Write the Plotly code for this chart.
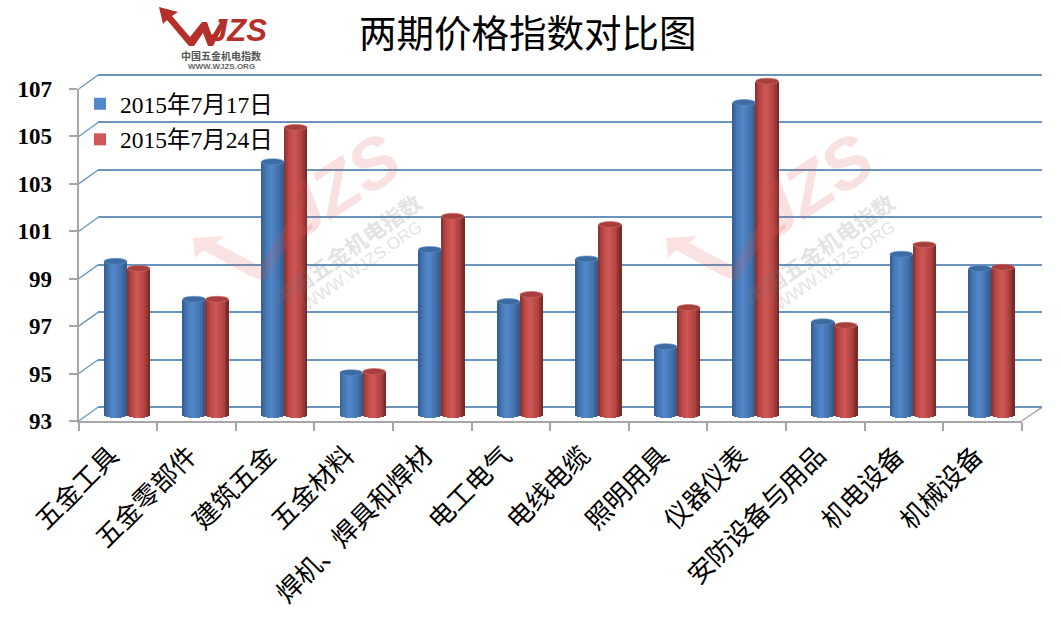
import math
import plotly.graph_objects as go

W, H = 1061, 623

# ---------- data ----------
categories = ["五金工具", "五金零部件", "建筑五金", "五金材料", "焊机、焊具和焊材", "电工电气",
              "电线电缆", "照明用具", "仪器仪表", "安防设备与用品", "机电设备", "机械设备"]
series_names = ["2015年7月17日", "2015年7月24日"]
values_0717 = [99.4, 97.8, 103.6, 94.7, 99.9, 97.7, 99.5, 95.8, 106.1, 96.85, 99.7, 99.1]
values_0724 = [99.1, 97.8, 105.05, 94.75, 101.3, 98.0, 100.95, 97.45, 107.0, 96.7, 100.1, 99.15]
y_ticks = [93, 95, 97, 99, 101, 103, 105, 107]
title_text = "两期价格指数对比图"

SERIF = '"Liberation Serif","Noto Sans CJK SC"'
CJK = '"Noto Sans CJK SC","Liberation Serif"'


def px(x):
    return x / W


def py(y):
    return 1 - y / H


def mix(a, b, t):
    return "#" + "".join(f"{round(a[i] + (b[i] - a[i]) * t):02x}" for i in range(3))


def shade(stops, t):
    for (t0, c0), (t1, c1) in zip(stops, stops[1:]):
        if t <= t1:
            return mix(c0, c1, (t - t0) / (t1 - t0))
    return mix(stops[-1][1], stops[-1][1], 0)


BLUE = [(0, (52, 92, 140)), (0.2, (68, 118, 178)), (0.45, (82, 136, 204)), (0.75, (68, 116, 176)), (1, (48, 88, 136))]
RED = [(0, (130, 48, 46)), (0.2, (186, 70, 68)), (0.45, (208, 88, 86)), (0.78, (176, 66, 64)), (1, (112, 38, 36))]

fig = go.Figure()

# back wall (gridlines)
fig.add_trace(go.Scatter(x=[0], y=[93], xaxis="x", yaxis="y", mode="markers", marker_opacity=0,
                         showlegend=False, hoverinfo="skip"))
# front axes
fig.add_trace(go.Scatter(x=categories, y=[93] * 12, xaxis="x2", yaxis="y2", mode="markers", marker_opacity=0,
                         showlegend=False, hoverinfo="skip"))

# cylinders
BAR_W = 23 / 78.64
STRIPS = 12
UNIT = 23.7
shapes = []
for s, (name, vals, stops, top, rim) in enumerate([
    (series_names[0], values_0717, BLUE, "#3d6ca3", "#5f8fc8"),
    (series_names[1], values_0724, RED, "#a73f3d", "#cf6a68"),
]):
    off0 = (s - 1) * BAR_W
    fig.add_trace(go.Bar(x=categories, y=[v - 93 for v in vals], base=93, name=name, legendgroup=name,
                         customdata=vals, hovertemplate="%{x}: %{customdata}<extra>" + name + "</extra>",
                         width=BAR_W, offset=off0, xaxis="x3", yaxis="y3",
                         marker=dict(color=shade(stops, 0.45), line_width=0)))
    for j in range(STRIPS):
        t = (j + 0.5) / STRIPS
        u = 2 * t - 1
        drop = (1.5 + 3 * math.sqrt(1 - u * u)) / UNIT
        fig.add_trace(go.Bar(x=categories, y=[v - 93 + drop for v in vals], base=93 - drop,
                             width=BAR_W / STRIPS, offset=off0 + j * BAR_W / STRIPS,
                             xaxis="x3", yaxis="y3", showlegend=False, legendgroup=name, hoverinfo="skip",
                             marker=dict(color=shade(stops, t), line_width=0)))
    for i, v in enumerate(vals):
        shapes.append(dict(type="circle", xref="x3", yref="y3", layer="above",
                           x0=i + off0, x1=i + off0 + BAR_W,
                           y0=v - 3 / UNIT, y1=v + 3 / UNIT,
                           fillcolor=top, line=dict(color=rim, width=0.6)))

# side wall connectors
F_TOP, F_BOT, B_TOP, B_BOT = 89.0, 421.0, 75.0, 407.3
LEFT, RIGHT, B_LEFT, B_RIGHT = 78.7, 1021.7, 98.0, 1042.0
GRID = "#6894bd"
GRID_W = 1.6
B_UNIT = (B_BOT - B_TOP) / 14
for v in y_ticks:
    f = (v - 93) / 14
    shapes.append(dict(type="line", xref="paper", yref="paper", layer="below",
                       x0=px(LEFT), x1=px(B_LEFT),
                       y0=py(F_BOT - f * (F_BOT - F_TOP)), y1=py(B_BOT - f * (B_BOT - B_TOP)),
                       line=dict(color=GRID, width=1.3)))
shapes.append(dict(type="line", xref="paper", yref="paper", layer="below",
                   x0=px(RIGHT), x1=px(B_RIGHT), y0=py(F_BOT), y1=py(B_BOT),
                   line=dict(color="#a6a6a6", width=1.5)))


def poly(points, color, opacity=1.0):
    d = "M" + "L".join(f"{px(a):.5f},{py(b):.5f}" for a, b in points) + "Z"
    return dict(type="path", path=d, xref="paper", yref="paper", layer="below" if opacity == 1.0 else "above",
                fillcolor=color, opacity=opacity, line_width=0)


# logo arrow + W
shapes.append(poly([(159, 7), (178, 12), (172, 16), (190, 37), (202, 22), (207, 22), (212, 36), (221, 21), (226, 21),
                    (213, 46), (208, 46), (203, 33), (194, 46), (189, 46), (167, 20), (163, 24)], "#b5302a"))
# watermarks
for dx in (-473, 0):
    shapes.append(poly([(666 + dx, 238), (697 + dx, 236), (689 + dx, 243), (733 + dx, 266), (747 + dx, 243),
                        (776 + dx, 196), (786 + dx, 228), (758 + dx, 248), (737 + dx, 281), (723 + dx, 276),
                        (676 + dx, 250), (668 + dx, 258)], "#d9534f", 0.17))

annotations = [
    dict(text=title_text, x=px(528), y=py(31), font=dict(size=37.5, family=CJK, color="#000000")),
    dict(text="<b><i>JZS</i></b>", x=px(238), y=py(31), font=dict(size=31, family='"Liberation Sans"', color="#b5302a")),
    dict(text="<b>中国五金机电指数</b>", x=px(221), y=py(55), font=dict(size=10, family=CJK, color="#555555")),
    dict(text="<b>WWW.WJZS.ORG</b>", x=px(221), y=py(67), font=dict(size=8, family='"Liberation Sans"', color="#666666")),
]
for dx in (-473, 0):
    annotations += [
        dict(text="<b><i>JZS</i></b>", x=px(812 + dx), y=py(186), textangle=-33, opacity=0.17,
             font=dict(size=70, family='"Liberation Sans"', color="#d9534f")),
        dict(text="<b>中国五金机电指数</b>", x=px(819 + dx), y=py(249), textangle=-35, opacity=0.2,
             font=dict(size=22, family=CJK, color="#777777")),
        dict(text="WWW.WJZS.ORG", x=px(835 + dx), y=py(265), textangle=-35, opacity=0.2,
             font=dict(size=17, family='"Liberation Sans"', color="#777777")),
    ]
for a in annotations:
    a.update(xref="paper", yref="paper", showarrow=False, xanchor="center", yanchor="middle")

fig.update_layout(
    width=W, height=H, margin=dict(l=0, r=0, t=0, b=0, autoexpand=False), autosize=False,
    paper_bgcolor="#ffffff", plot_bgcolor="rgba(0,0,0,0)",
    barmode="overlay", bargap=0, showlegend=True,
    legend=dict(x=px(80), y=py(82), xanchor="left", yanchor="top", bgcolor="rgba(0,0,0,0)",
                font=dict(size=23.5, family=SERIF, color="#000000"),
                traceorder="grouped", tracegroupgap=2, itemclick=False, itemdoubleclick=False),
    shapes=shapes, annotations=annotations,
    # back wall: range padded by one unit so the 93 and 107 gridlines are kept
    xaxis=dict(domain=[px(B_LEFT), px(B_RIGHT)], range=[0, 1], anchor="y", showgrid=False, zeroline=False,
               showticklabels=False, ticks="", showline=False, automargin=False),
    yaxis=dict(domain=[py(B_BOT + B_UNIT), py(B_TOP - B_UNIT)], range=[92, 108], anchor="x", tickvals=y_ticks,
               showgrid=True, gridcolor=GRID, gridwidth=GRID_W, zeroline=False, showticklabels=False, ticks="",
               showline=False, automargin=False),
    # front axes
    xaxis2=dict(domain=[px(LEFT), px(RIGHT)], type="category", categoryorder="array", categoryarray=categories,
                range=[-0.5, 11.5], anchor="y2", tickson="boundaries", ticks="outside", ticklen=8,
                tickcolor="#a6a6a6", tickwidth=1.5, showline=True, linecolor="#a6a6a6", linewidth=2,
                showgrid=False, zeroline=False, tickangle=-45, ticklabelstandoff=7, ticklabelshift=-7,
                automargin=False, tickfont=dict(size=26, family=CJK, color="#000000")),
    yaxis2=dict(domain=[py(F_BOT), py(F_TOP)],
                range=[93, 107], anchor="x2", tickvals=y_ticks, ticks="outside", ticklen=8,
                tickcolor="#a6a6a6", tickwidth=1.5, showline=True, linecolor="#a6a6a6", linewidth=2,
                showgrid=False, zeroline=False, ticklabelstandoff=12, automargin=False,
                tickfont=dict(size=23, family='"Liberation Serif"', color="#000000", weight="bold")),
    # cylinders
    xaxis3=dict(domain=[px(87.7), px(1030.7)], type="category", categoryorder="array", categoryarray=categories,
                range=[-0.5, 11.5], anchor="y3", visible=False, automargin=False),
    yaxis3=dict(domain=[py(413 + UNIT), py(413 - 15 * UNIT)], range=[92, 108], anchor="x3", visible=False,
                automargin=False),
)

fig.write_html("out.html", config={"displayModeBar": False}, post_script="document.body.style.margin='0';")
